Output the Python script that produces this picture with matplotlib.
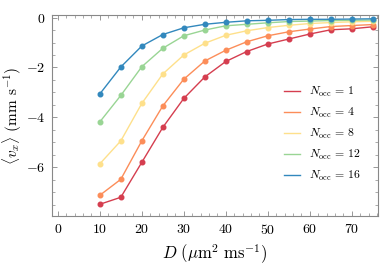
import numpy as np
import matplotlib
matplotlib.use('Agg')
from matplotlib import pyplot as plt
from matplotlib.ticker import MultipleLocator

plt.rcParams['font.family'] = 'serif'
plt.rcParams['font.serif'] = ['cmr10', 'DejaVu Serif']
plt.rcParams['mathtext.fontset'] = 'cm'
plt.rcParams['axes.formatter.use_mathtext'] = True

# diffusion coefficient D (um^2 ms^-1)
D = [10, 15, 20, 25, 30, 35, 40, 45, 50, 55, 60, 65, 70, 75]

# mean velocity <v_x> (mm s^-1) for each N_occ
n_occ = [1, 4, 8, 12, 16]
v_1 = [-7.48, -7.20, -5.80, -4.40, -3.24, -2.38, -1.76, -1.36, -1.06, -0.86, -0.66, -0.49, -0.45, -0.37]
v_4 = [-7.12, -6.48, -4.94, -3.54, -2.47, -1.74, -1.31, -0.97, -0.73, -0.57, -0.46, -0.36, -0.32, -0.28]
v_8 = [-5.86, -4.94, -3.44, -2.26, -1.50, -1.03, -0.71, -0.53, -0.40, -0.31, -0.24, -0.20, -0.17, -0.15]
v_12 = [-4.18, -3.12, -1.97, -1.23, -0.73, -0.50, -0.33, -0.27, -0.21, -0.16, -0.14, -0.12, -0.11, -0.10]
v_16 = [-3.06, -1.98, -1.14, -0.68, -0.41, -0.27, -0.19, -0.13, -0.11, -0.08, -0.07, -0.07, -0.06, -0.05]

colors = ['#d53e4f', '#fc8d59', '#fee08b', '#99d594', '#3288bd']

fig = plt.figure(figsize=(3.82, 2.69), dpi=100)
ax = fig.add_axes([0.136, 0.197, 0.854, 0.747])

for n, v, c in zip(n_occ, [v_1, v_4, v_8, v_12, v_16], colors):
    ax.plot(D, v, color=c, lw=1.0, label=r'$N_{\mathrm{occ}}\,=\,%d$' % n)
    ax.plot(D, v, color=c, lw=0, marker='o', ms=3.3)

ax.set_xlim(-1.4, 76.3)
ax.set_ylim(-7.95, 0.1)
ax.xaxis.set_major_locator(MultipleLocator(10))
ax.xaxis.set_minor_locator(MultipleLocator(2))
ax.yaxis.set_major_locator(MultipleLocator(2))
ax.yaxis.set_minor_locator(MultipleLocator(0.5))
ax.tick_params(which='both', direction='in', top=True, right=True, color='#888888', labelsize=10)
ax.tick_params(which='major', length=3.5, width=0.6, pad=5)
ax.tick_params(which='minor', length=2, width=0.5)
for s in ax.spines.values():
    s.set_color('#888888')
    s.set_linewidth(0.8)

ax.set_xlabel(r'$D\ (\mathrm{\mu m}^2\ \mathrm{ms}^{-1})$', fontsize=12)
ax.set_ylabel(r'$\langle v_x \rangle$ (mm s$^{-1}$)', fontsize=11, labelpad=1)

ax.legend(loc='lower right', frameon=False, fontsize=8.5, handlelength=1.3,
          labelspacing=0.6, bbox_to_anchor=(0.98, 0.11))

fig.savefig('out.png', dpi=100)
